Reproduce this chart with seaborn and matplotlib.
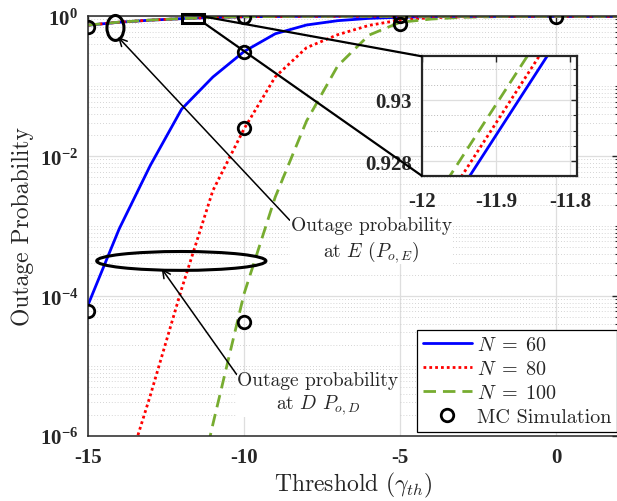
import matplotlib
matplotlib.use('Agg')
import matplotlib.pyplot as plt
from matplotlib.patches import Ellipse, Rectangle, ConnectionPatch
from matplotlib.ticker import FixedLocator, NullFormatter
import seaborn as sns

# threshold values (dB)
threshold = list(range(-15, 3))

# outage probability at D
pout_d_60 = [7.4e-5, 9.1e-4, 7.4e-3, 0.047, 0.135, 0.313, 0.562, 0.750, 0.865,
             0.933, 0.968, 0.986, 0.993, 0.998, 0.999, 1.0, 1.0, 1.0]
pout_d_80 = [5.0e-9, 1.4e-7, 3.8e-6, 1.26e-4, 3.2e-3, 0.0245, 0.136, 0.355, 0.545,
             0.740, 0.885, 0.955, 0.982, 0.993, 0.998, 0.999, 1.0, 1.0]
pout_d_100 = [1e-13, 1e-11, 3.2e-10, 1.6e-8, 1.45e-6, 1.07e-4, 2.6e-3, 0.0316, 0.195,
              0.537, 0.820, 0.912, 0.966, 0.986, 0.995, 0.998, 1.0, 1.0]

# outage probability at E
pout_e_60 = [0.745, 0.822, 0.880, 0.9251, 0.9625, 0.984, 0.994, 0.998, 0.999,
             1.0, 1.0, 1.0, 1.0, 1.0, 1.0, 1.0, 1.0, 1.0]
pout_e_80 = [0.746, 0.823, 0.881, 0.9255, 0.9629, 0.985, 0.994, 0.998, 0.999,
             1.0, 1.0, 1.0, 1.0, 1.0, 1.0, 1.0, 1.0, 1.0]
pout_e_100 = [0.748, 0.825, 0.883, 0.9261, 0.9635, 0.985, 0.995, 0.998, 0.999,
              1.0, 1.0, 1.0, 1.0, 1.0, 1.0, 1.0, 1.0, 1.0]

# Monte Carlo points
mc_x = [-15, -15, -10, -10, -10, -10, -5, -5, 0]
mc_y = [0.70, 6.0e-5, 0.97, 0.312, 0.0251, 4.27e-5, 1.0, 0.776, 0.97]

series_labels = [r'$N\;=\;60$', r'$N\;=\;80$', r'$N\;=\;100$']
colors = ['#0000ff', '#ff0000', '#77ac30']
styles = ['-', (0, (1, 1.1)), (0, (4.5, 2.5))]

sns.set_style('white')
plt.rcParams['font.family'] = ['cmr10', 'DejaVu Serif']
plt.rcParams['mathtext.fontset'] = 'cm'
plt.rcParams['mathtext.bf'] = 'Liberation Serif:bold'
plt.rcParams['mathtext.rm'] = 'Liberation Serif'
plt.rcParams['axes.unicode_minus'] = False
plt.rcParams['axes.formatter.use_mathtext'] = True

fig = plt.figure(figsize=(6.17, 5.02), dpi=100)
ax = fig.add_axes([0.1426, 0.1301, 0.8600, 0.8355])

d_sets = [pout_d_60, pout_d_80, pout_d_100]
e_sets = [pout_e_60, pout_e_80, pout_e_100]
for d, lab, c, ls in zip(d_sets, series_labels, colors, styles):
    sns.lineplot(x=threshold, y=d, ax=ax, color=c, linestyle=ls, lw=2, label=lab)
for e, c, ls in zip(e_sets, colors, styles):
    sns.lineplot(x=threshold, y=e, ax=ax, color=c, linestyle=ls, lw=2, label='_nolegend_')

ax.plot(mc_x, mc_y, 'o', mfc='none', mec='black', ms=9, mew=2,
        label='MC Simulation', zorder=5)

ax.set_yscale('log')
ax.set_xlim(-15, 2)
ax.set_ylim(1e-6, 1)

tick_font = dict(family='Liberation Serif', weight='bold', size=15)
ax.set_xticks([-15, -10, -5, 0])
ax.set_xticklabels(['-15', '-10', '-5', '0'], **tick_font)
ax.yaxis.set_major_locator(FixedLocator([1e-6, 1e-4, 1e-2, 1]))
ax.set_yticklabels([r'$\mathbf{10^{-6}}$', r'$\mathbf{10^{-4}}$',
                    r'$\mathbf{10^{-2}}$', r'$\mathbf{10^{0}}$'],
                   size=15, math_fontfamily='custom')
minor = [m * 10.0 ** k for k in range(-6, 0) for m in range(2, 10)] + \
        [10.0 ** k for k in (-5, -3, -1)]
ax.yaxis.set_minor_locator(FixedLocator(minor))
ax.yaxis.set_minor_formatter(NullFormatter())
ax.tick_params(which='both', direction='in', top=True, right=True, color='0.15')
ax.tick_params(which='major', length=5, width=1, pad=7)
ax.tick_params(which='minor', length=3, width=0.8)
ax.tick_params(axis='x', pad=8)

ax.grid(which='major', color='0.87', lw=0.9, ls='-')
ax.grid(which='minor', axis='y', color='0.78', lw=0.6, ls=(0, (1, 2.5)))
for s in ax.spines.values():
    s.set_color('0.15')
    s.set_linewidth(1.1)

ax.set_xlabel(r'Threshold ($\gamma_{th}$)', fontsize=17, labelpad=2)
ax.set_ylabel('Outage Probability', fontsize=17, labelpad=4)

leg = ax.legend(loc='lower right', bbox_to_anchor=(0.997, 0.008), borderaxespad=0,
                fontsize=14.5, handlelength=2.4, handletextpad=0.25, labelspacing=0.3,
                fancybox=False, edgecolor='black', framealpha=1, borderpad=0.3)
leg.get_frame().set_linewidth(0.9)


def to_axes(x, y):
    return ax.transAxes.inverted().transform(ax.transData.transform((x, y)))


# ellipses marking curve groups (widths in x units, heights in decades)
for (cx, cy, w, h) in [(-14.12, 10 ** -0.167, 0.545, 0.357),
                       (-12.01, 10 ** -3.5, 5.42, 0.27)]:
    ax.add_patch(Ellipse(to_axes(cx, cy), w / 17, h / 6, transform=ax.transAxes,
                         fill=False, ec='black', lw=2.2, zorder=6, clip_on=False))

ax.annotate('Outage probability\nat $E$ $(P_{o,E})$', xy=(-14.04, 0.506),
            xytext=(-5.93, 6.3e-4), ha='center', va='center', fontsize=14,
            linespacing=1.2, zorder=7,
            bbox=dict(fc='white', ec='none', pad=0.5),
            arrowprops=dict(arrowstyle='->', lw=1.1, color='black',
                            shrinkA=0, shrinkB=0, relpos=(0.0, 0.9)))
ax.annotate('Outage probability\nat $D$ $P_{o,D}$', xy=(-12.64, 2.45e-4),
            xytext=(-7.63, 4.0e-6), ha='center', va='center', fontsize=14,
            linespacing=1.2, zorder=7,
            bbox=dict(fc='white', ec='none', pad=0.5),
            arrowprops=dict(arrowstyle='->', lw=1.1, color='black',
                            shrinkA=0, shrinkB=0, relpos=(0.0, 0.9)))

ax.add_patch(Rectangle((-12.0, 0.80), 0.72, 0.28, fill=False, ec='black', lw=2.2,
                       zorder=6, clip_on=False))

# zoomed inset
axins = fig.add_axes([421.7 / 617, (502 - 176.7) / 502, 155 / 617, 119.4 / 502])
for e, c, ls in zip(e_sets, colors, styles):
    sns.lineplot(x=threshold, y=e, ax=axins, color=c, linestyle=ls, lw=2,
                 label='_nolegend_')
axins.set_xlim(-12, -11.791)
axins.set_ylim(0.92753, 0.93142)
axins.set_xticks([-12, -11.9, -11.8])
axins.set_xticklabels(['-12', '-11.9', '-11.8'], **tick_font)
axins.set_yticks([0.928, 0.93])
axins.set_yticklabels(['0.928', '0.93'], **tick_font)
axins.yaxis.set_minor_locator(FixedLocator([0.9275, 0.9285, 0.929, 0.9295,
                                            0.9305, 0.931]))
axins.tick_params(which='both', direction='in', top=True, right=True, color='0.15')
axins.tick_params(which='major', length=4, width=1, pad=7)
axins.tick_params(which='minor', length=3, width=0.8)
axins.tick_params(axis='x', pad=11)
axins.grid(which='major', color='0.87', lw=0.9)
axins.grid(which='minor', axis='y', color='0.72', lw=0.7, ls=(0, (1, 2)))
for s in axins.spines.values():
    s.set_color('0.15')
    s.set_linewidth(1.6)
if axins.get_legend():
    axins.get_legend().remove()

for xa, xb in [((-11.34, 1.0), (0, 1)), ((-11.28, 0.80), (0, 0))]:
    con = ConnectionPatch(xyA=xa, coordsA=ax.transData, xyB=xb,
                          coordsB=axins.transAxes, color='black', lw=1.6, zorder=8)
    fig.add_artist(con)

fig.savefig('out.png', dpi=100)
